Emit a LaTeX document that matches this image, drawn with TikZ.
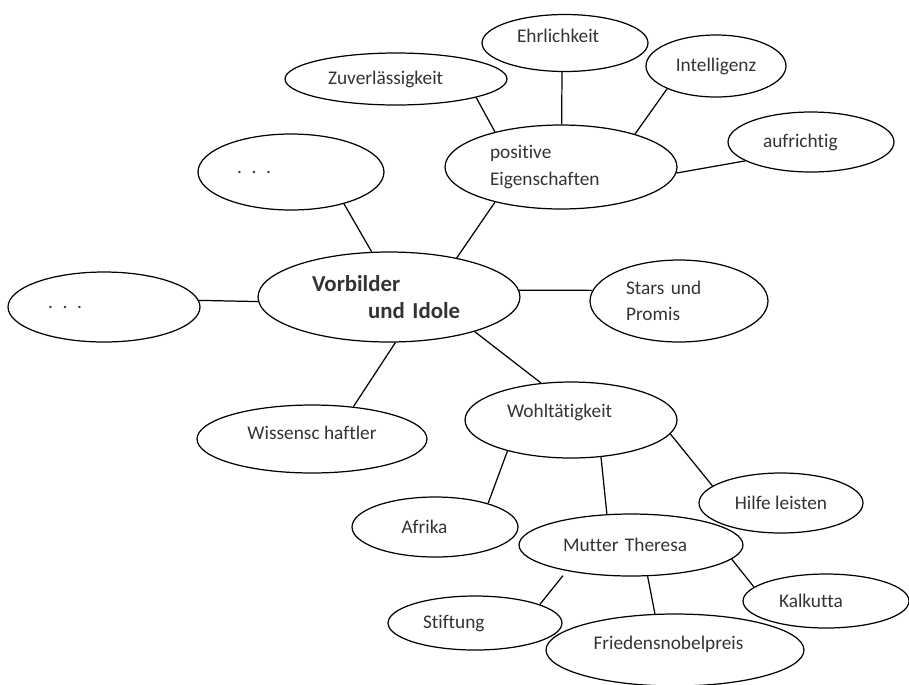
\documentclass[tikz,border=0pt]{standalone}
\usepackage{fontspec}
\setmainfont{Carlito}[Ligatures=NoCommon]
\usetikzlibrary{shapes.geometric}

\begin{document}
\begin{tikzpicture}[x=0.02cm, y=-0.02cm,
  bubble/.style={draw, ellipse, inner sep=0pt, line width=0.7pt, align=left,
    text=black!80, font=\fontsize{11}{15}\selectfont},
  link/.style={line width=0.7pt}]
  \useasboundingbox (0,0) rectangle (909,684);

  \node[bubble, minimum width=5.24cm, minimum height=1.8cm, text width=3.08cm,
    font=\bfseries\fontsize{13}{15.5}\selectfont] (vorb) at (389,297)
    {Vorbilder\\\hspace*{1.12cm}und Idole};
  \node[bubble, minimum width=4.64cm, minimum height=1.68cm, text width=2.84cm] (poseig) at (561,167) {positive\\Eigenschaften};
  \node[bubble, minimum width=3.32cm, minimum height=1.14cm, text width=1.92cm, text depth=0.28cm] (ehr) at (565,43) {Ehrlichkeit};
  \node[bubble, minimum width=4.44cm, minimum height=1.04cm, text width=2.72cm] (zuv) at (396,79) {Zuverlässigkeit};
  \node[bubble, minimum width=2.8cm, minimum height=1.24cm] (intel) at (716,66) {Intelligenz};
  \node[bubble, minimum width=3.32cm, minimum height=1.2cm, text width=1.92cm] (aufr) at (811,142) {aufrichtig};
  \node[bubble, minimum width=3.72cm, minimum height=1.52cm, text width=2.16cm] (dotsa) at (291,172) {. . .};
  \node[bubble, minimum width=3.84cm, minimum height=1.4cm, text width=2.24cm] (dotsb) at (104,307) {. . .};
  \node[bubble, minimum width=3.56cm, minimum height=1.64cm, text width=2.12cm] (stars) at (679,301) {Stars und\\Promis};
  \node[bubble, minimum width=4.6cm, minimum height=1.36cm, text depth=0.24cm] (wiss) at (312,439) {Wissensc haftler};
  \node[bubble, minimum width=4.24cm, minimum height=1.52cm, text width=2.56cm, text depth=0.36cm] (wohl) at (571,420) {Wohltätigkeit};
  \node[bubble, minimum width=3.32cm, minimum height=1.2cm, text width=1.34cm] (afrika) at (435,527) {Afrika};
  \node[bubble, minimum width=3.28cm, minimum height=1.2cm] (hilfe) at (781,503) {Hilfe leisten};
  \node[bubble, minimum width=4.48cm, minimum height=1.24cm, text width=2.72cm] (mutter) at (631,545) {Mutter Theresa};
  \node[bubble, minimum width=3.48cm, minimum height=1.08cm, text width=2.08cm] (stift) at (475,623) {Stiftung};
  \node[bubble, minimum width=5.16cm, minimum height=1.44cm, text width=3.26cm, text depth=0.27cm] (fried) at (675,650) {Friedensnobelpreis};
  \node[bubble, minimum width=3.32cm, minimum height=1.08cm, text width=1.88cm] (kalk) at (826,601) {Kalkutta};

  \draw[link] (zuv.-13) -- (poseig.152);
  \draw[link] (ehr.-96) -- (poseig.89);
  \draw[link] (intel.-155) -- (poseig.24);
  \draw[link] (aufr.-164) -- (poseig.-3);
  \draw[link] (dotsa.-31) -- (vorb.111);
  \draw[link] (poseig.-152) -- (vorb.30);
  \draw[link] (dotsb.4) -- (vorb.-178);
  \draw[link] (vorb.3) -- (stars.173);
  \draw[link] (vorb.-82) -- (wiss.38);
  \draw[link] (vorb.-22) -- (wohl.129);
  \draw[link] (wohl.-154) -- (afrika.24);
  \draw[link] (wohl.-51) -- (mutter.128);
  \draw[link] (wohl.-8) -- (hilfe.166);
  \draw[link, shorten >=0.12cm] (stift.16) -- (mutter.-158);
  \draw[link] (mutter.-62) -- (fried.119);
  \draw[link] (mutter.-8) -- (kalk.169);
\end{tikzpicture}
\end{document}
